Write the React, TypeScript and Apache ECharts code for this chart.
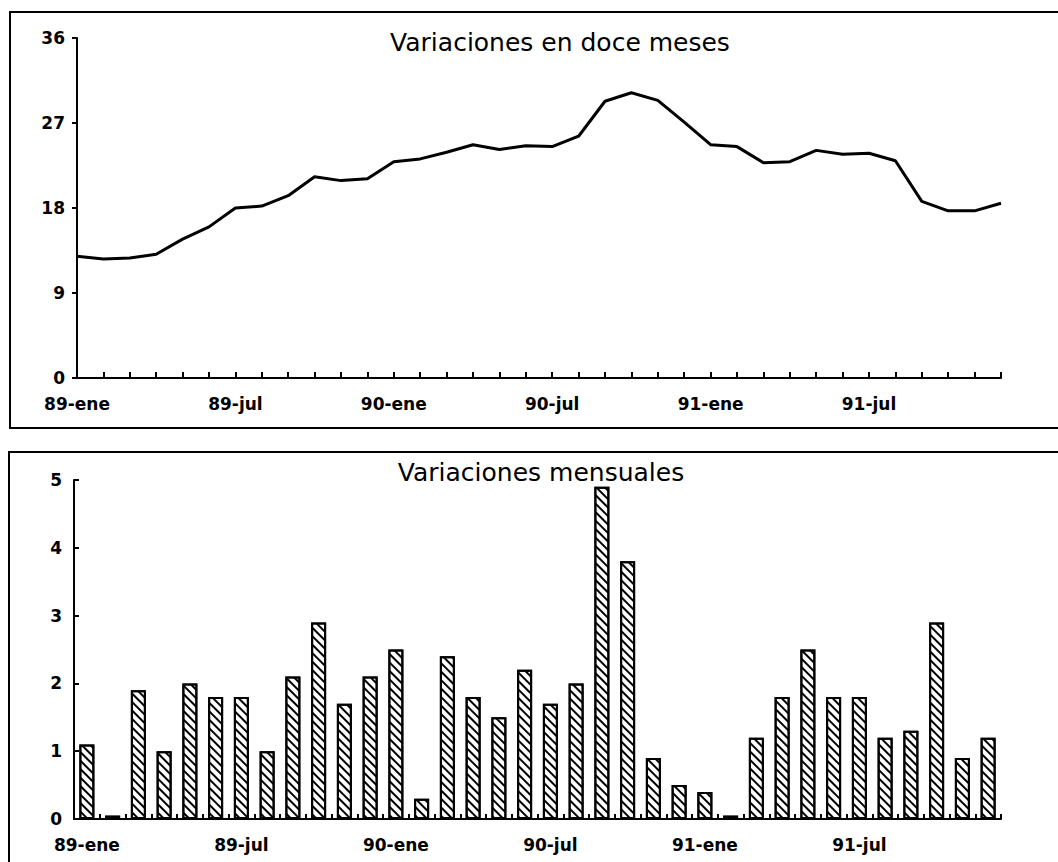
import React, { useEffect, useRef } from "react";
import * as echarts from "echarts";

const months: string[] = [
  "89-ene", "89-feb", "89-mar", "89-abr", "89-may", "89-jun", "89-jul", "89-ago", "89-sep", "89-oct", "89-nov", "89-dic",
  "90-ene", "90-feb", "90-mar", "90-abr", "90-may", "90-jun", "90-jul", "90-ago", "90-sep", "90-oct", "90-nov", "90-dic",
  "91-ene", "91-feb", "91-mar", "91-abr", "91-may", "91-jun", "91-jul", "91-ago", "91-sep", "91-oct", "91-nov", "91-dic",
];

const twelveMonth: number[] = [
  12.9, 12.6, 12.7, 13.1, 14.7, 16.0, 18.0, 18.2, 19.3, 21.3, 20.9, 21.1,
  22.9, 23.2, 23.9, 24.7, 24.2, 24.6, 24.5, 25.6, 29.3, 30.2, 29.4, 27.1,
  24.7, 24.5, 22.8, 22.9, 24.1, 23.7, 23.8, 23.0, 18.7, 17.7, 17.7, 18.5,
];

const monthly: number[] = [
  1.1, 0.05, 1.9, 1.0, 2.0, 1.8, 1.8, 1.0, 2.1, 2.9, 1.7, 2.1,
  2.5, 0.3, 2.4, 1.8, 1.5, 2.2, 1.7, 2.0, 4.9, 3.8, 0.9, 0.5,
  0.4, 0.05, 1.2, 1.8, 2.5, 1.8, 1.8, 1.2, 1.3, 2.9, 0.9, 1.2,
];

const topTitle = "Variaciones en doce meses";
const bottomTitle = "Variaciones mensuales";

export default function App() {
  const ref = useRef<HTMLDivElement>(null);
  useEffect(() => {
    if (!ref.current) return;
    const chart = echarts.init(ref.current, null, { renderer: "svg" });
    const labelStyle = {
      color: "#000",
      fontFamily: "DejaVu Sans",
      fontWeight: "bold" as const,
      fontSize: 17,
    };
    const axisLine = { show: true, lineStyle: { color: "#000", width: 2 } };
    chart.setOption({
      animation: false,
      backgroundColor: "#fff",
      grid: [
        { left: 77, top: 38, right: 57, bottom: 484 },
        { left: 74, top: 480, right: 57, bottom: 43 },
      ],
      xAxis: [
        {
          type: "category",
          gridIndex: 0,
          data: months,
          boundaryGap: false,
          axisLine,
          axisTick: { show: true, inside: true, length: 6, interval: 0, lineStyle: { color: "#000", width: 2 } },
          axisLabel: { ...labelStyle, interval: 5, margin: 17 },
          splitLine: { show: false },
        },
        {
          type: "category",
          gridIndex: 1,
          data: months,
          boundaryGap: true,
          axisLine,
          axisTick: { show: true, inside: true, length: 5, interval: 0, lineStyle: { color: "#000", width: 2 } },
          axisLabel: { ...labelStyle, interval: 5, margin: 17 },
          splitLine: { show: false },
        },
      ],
      yAxis: [
        {
          type: "value",
          gridIndex: 0,
          min: 0,
          max: 36,
          interval: 9,
          axisLine,
          axisTick: { show: true, inside: false, length: 5, lineStyle: { color: "#000", width: 2 } },
          axisLabel: { ...labelStyle, margin: 12 },
          splitLine: { show: false },
        },
        {
          type: "value",
          gridIndex: 1,
          min: 0,
          max: 5,
          interval: 1,
          axisLine,
          axisTick: { show: true, inside: true, length: 5, lineStyle: { color: "#000", width: 2 } },
          axisLabel: { ...labelStyle, margin: 12 },
          splitLine: { show: false },
        },
      ],
      series: [
        {
          type: "line",
          xAxisIndex: 0,
          yAxisIndex: 0,
          data: twelveMonth,
          showSymbol: false,
          symbol: "none",
          lineStyle: { color: "#000", width: 3 },
        },
        {
          type: "bar",
          xAxisIndex: 1,
          yAxisIndex: 1,
          data: monthly,
          barWidth: 15,
          itemStyle: {
            color: "#fff",
            borderColor: "#000",
            borderWidth: 2,
            decal: {
              symbol: "rect",
              symbolSize: 1,
              color: "#000",
              backgroundColor: "#fff",
              dashArrayX: [1, 0],
              dashArrayY: [2, 3.5],
              rotation: Math.PI / 4,
            },
          },
        },
      ],
      graphic: [
        {
          type: "rect",
          shape: { x: 10, y: 12, width: 1060, height: 416 },
          style: { fill: "none", stroke: "#000", lineWidth: 2 },
          silent: true,
        },
        {
          type: "rect",
          shape: { x: 9, y: 452, width: 1060, height: 430 },
          style: { fill: "none", stroke: "#000", lineWidth: 2 },
          silent: true,
        },
        {
          type: "text",
          x: 560,
          y: 42,
          style: {
            text: topTitle,
            fill: "#000",
            font: "25px 'DejaVu Sans'",
            textAlign: "center",
            textVerticalAlign: "middle",
          },
        },
        {
          type: "text",
          x: 541,
          y: 472,
          style: {
            text: bottomTitle,
            fill: "#000",
            font: "25px 'DejaVu Sans'",
            textAlign: "center",
            textVerticalAlign: "middle",
          },
        },
      ],
    });
    return () => chart.dispose();
  }, []);
  return (
    <div
      ref={ref}
      style={{ position: "absolute", left: 0, top: 0, width: 1058, height: 862, background: "#fff" }}
    />
  );
}
